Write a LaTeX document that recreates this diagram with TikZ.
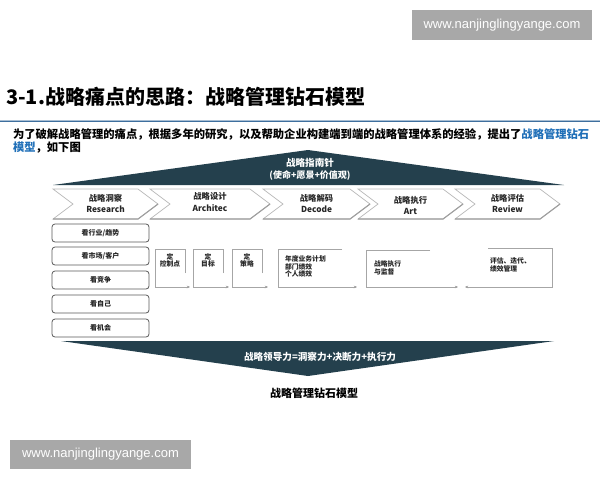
\documentclass[tikz,border=0pt]{standalone}
\usepackage{fontspec}
\setmainfont{Noto Sans CJK SC}
\newfontfamily\wmfont{Liberation Sans}
\usetikzlibrary{arrows.meta}
\definecolor{darkslate}{HTML}{24404D}
\definecolor{wmgray}{HTML}{A8A8A8}
\definecolor{linkblue}{HTML}{1F6FB8}
\definecolor{ruleblue}{HTML}{3E6F9E}
\newcommand{\fs}[1]{\fontsize{#1}{#1}\selectfont}
\begin{document}
\begin{tikzpicture}[x=1pt,y=-1pt,
  txt/.style={inner sep=0pt, outer sep=0pt},
  wmbox/.style={fill=wmgray, draw=none, inner sep=0pt, minimum height=30pt, text=white, font=\wmfont\fs{13}},
  chevbox/.style={fill=white, draw=gray!55, line width=0.7pt, line join=miter},
  chevshadow/.style={draw=gray!75, line width=1.1pt},
  chevtxt/.style={txt, font=\bfseries\fs{8.3}, text=black!85},
  leftbox/.style={draw=black!65, line width=0.8pt, fill=white, rounded corners=3pt,
    minimum width=97pt, minimum height=18pt, inner sep=0pt, font=\bfseries\fs{7}, text=black!85},
  pbox/.style={draw=gray!70, line width=0.8pt},
  ptxt/.style={txt, font=\bfseries\fontsize{6.8}{7.4}\selectfont, text=black!85, align=left},
  arr/.style={draw=gray!70, line width=0.8pt, -{Stealth[length=3.2pt,width=2.6pt,fill=black]}},
  bandtxt/.style={txt, text=white, font=\bfseries\fs{9.6}}
]
\useasboundingbox (0,0) rectangle (600,480);
\fill[white] (0,0) rectangle (600,480);

% watermarks
\node[wmbox, minimum width=180pt] (wmtop) at (502,25) {www.nanjinglingyange.com};
\node[wmbox, minimum width=181pt, minimum height=29pt] (wmbot) at (100.5,454.5) {www.nanjinglingyange.com};

% title
\node[txt, anchor=west, font=\bfseries\fs{20}] (title) at (6,97) {3-1.战略痛点的思路：战略管理钻石模型};
\draw[ruleblue!45, line width=1.2pt] (0,120.5) -- (600,120.5);
\draw[ruleblue, line width=0.8pt] (0,121.5) -- (600,121.5);

% paragraph
\node[txt, anchor=west, font=\bfseries\fs{11.3}] (para1) at (13,134)
  {为了破解战略管理的痛点，根据多年的研究，以及帮助企业构建端到端的战略管理体系的经验，提出了\textcolor{linkblue}{战略管理钻石}};
\node[txt, anchor=west, font=\bfseries\fs{11.3}] (para2) at (13,148)
  {\textcolor{linkblue}{模型}，如下图};

% top triangle
\fill[darkslate] (53,185) -- (308,150) -- (564,185) -- cycle;
\node[bandtxt] (compass) at (310,163) {战略指南针};
\node[bandtxt, font=\bfseries\fs{9}] (compass2) at (310,175) {(使命+愿景+价值观)};

% chevrons
\foreach \xa/\xb/\cn/\en/\nm/\ty in {53/138/战略洞察/Research/c1/0, 150/250/战略设计/Architec/c2/-1.5, 263/350/战略解码/Decode/c3/0, 358/443/战略执行/Art/c4/2, 455/540/战略评估/Review/c5/0}{
  \filldraw[chevbox] (\xa,189) -- (\xb,189) -- (\xb+20,204) -- (\xb,219) -- (\xa,219) -- (\xa+20,204) -- cycle;
  \draw[chevshadow] (\xb+20,204) -- (\xb,219) -- (\xa,219);
  \node[chevtxt] (\nm cn) at ({(\xa+\xb)/2+10},198+\ty) {\cn};
  \node[chevtxt] (\nm en) at ({(\xa+\xb)/2+10},209.5+\ty) {\en};
}

% left boxes
\node[leftbox] (lb1) at (100.5,233) {看行业/趋势};
\node[leftbox] (lb2) at (100.5,256) {看市场/客户};
\node[leftbox] (lb3) at (100.5,280) {看竞争};
\node[leftbox] (lb4) at (100.5,304) {看自己};
\node[leftbox] (lb5) at (100.5,328) {看机会};

% process boxes
\draw[pbox] (185,273) -- (185,249) -- (155,249) -- (155,287) -- (185,287);
\coordinate (p1s) at (185,287); \coordinate (p1e) at (190,287);
\draw[arr] (p1s) -- (p1e);
\node[ptxt, align=center] (p1) at (170,260.5) {定\\控制点};

\draw[pbox] (223,273) -- (223,249) -- (193,249) -- (193,287) -- (223,287);
\coordinate (p2s) at (223,287); \coordinate (p2e) at (229,287);
\draw[arr] (p2s) -- (p2e);
\node[ptxt, align=center] (p2) at (208,260.5) {定\\目标};

\draw[pbox] (262,273) -- (262,249) -- (232,249) -- (232,287) -- (262,287);
\coordinate (p3s) at (262,287); \coordinate (p3e) at (268,287);
\draw[arr] (p3s) -- (p3e);
\node[ptxt, align=center] (p3) at (247,260.5) {定\\策略};

\draw[pbox] (342,249) -- (278,249) -- (278,287) -- (342,287);
\coordinate (p4s) at (342,287); \coordinate (p4e) at (357,287);
\draw[arr] (p4s) -- (p4e);
\node[ptxt, anchor=north west] (p4) at (285,256) {年度业务计划\\部门绩效\\个人绩效};

\draw[pbox] (430,250) -- (366,250) -- (366,287) -- (430,287);
\coordinate (p5s) at (430,287); \coordinate (p5e) at (458,287);
\draw[arr] (p5s) -- (p5e);
\node[ptxt, anchor=north west] (p5) at (374,261) {战略执行\\与监督};

\draw[pbox] (488,248) -- (552,248) -- (552,287) -- (500,287);
\coordinate (p6s) at (500,287); \coordinate (p6e) at (465,287);
\draw[arr] (p6s) -- (p6e);
\node[ptxt, anchor=north west] (p6) at (490,258) {评估、迭代、\\绩效管理};

% bottom triangle
\fill[darkslate] (61,341) -- (554,341) -- (308,376) -- cycle;
\node[bandtxt] (lead) at (320,357) {战略领导力=洞察力+决断力+执行力};

% caption
\node[txt, font=\bfseries\fs{11}] (cap) at (314,393) {战略管理钻石模型};
\end{tikzpicture}
\end{document}
